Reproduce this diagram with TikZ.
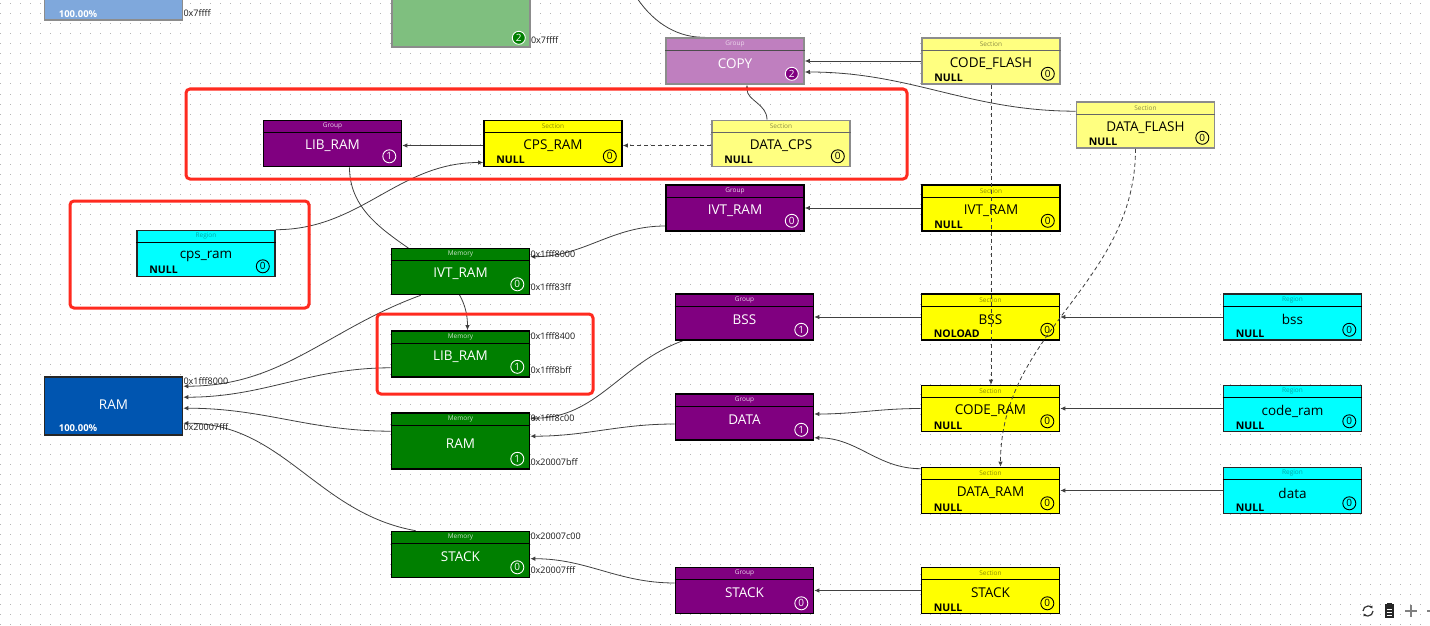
\documentclass[tikz,border=0pt]{standalone}
\usepackage{fontspec}
\setmainfont{Open Sans}
\usetikzlibrary{arrows.meta,backgrounds}

\definecolor{grpcol}{HTML}{800080}
\definecolor{grpfade}{HTML}{BF7FBF}
\definecolor{seccol}{HTML}{FFFF00}
\definecolor{secfade}{HTML}{FFFF80}
\definecolor{regcol}{HTML}{00FFFF}
\definecolor{memcol}{HTML}{007F00}
\definecolor{memfade}{HTML}{7FBF7F}
\definecolor{ramcol}{HTML}{0055B0}
\definecolor{ramfade}{HTML}{7FA8DC}
\definecolor{fadeline}{HTML}{8C8C8C}
\definecolor{edgecol}{HTML}{404040}
\definecolor{hired}{HTML}{FF2A1F}
\definecolor{dotcol}{HTML}{B4B4B4}
\definecolor{addrcol}{HTML}{1A1A1A}

\tikzset{
  blk/.style={rectangle, inner sep=0pt, minimum width=138pt, minimum height=46pt, line width=1.6pt},
  grpbox/.style={blk, fill=grpcol, draw=black},
  grpfbox/.style={blk, fill=grpfade, draw=fadeline},
  secbox/.style={blk, fill=seccol, draw=black},
  secfbox/.style={blk, fill=secfade, draw=fadeline},
  regbox/.style={blk, fill=regcol, draw=black!85},
  membox/.style={blk, fill=memcol, draw=black},
  memfbox/.style={blk, fill=memfade, draw=fadeline},
  rambox/.style={blk, fill=ramcol, draw=black!85},
  ramfbox/.style={blk, fill=ramfade, draw=fadeline},
  hdrline/.style={line width=0.9pt, draw=black},
  grprule/.style={hdrline},
  grpfrule/.style={hdrline, draw=black!70},
  secrule/.style={hdrline},
  secfrule/.style={hdrline, draw=black!60},
  regrule/.style={hdrline},
  memrule/.style={hdrline},
  hdr/.style={font=\fontsize{6.5}{7}\selectfont, inner sep=0pt},
  grphdr/.style={hdr, text=grpcol!15},
  grpfhdr/.style={hdr, text=white!85!grpcol},
  sechdr/.style={hdr, text=black!45!seccol},
  secfhdr/.style={hdr, text=black!45!secfade},
  reghdr/.style={hdr, text=black!35!regcol},
  memhdr/.style={hdr, text=memcol!20},
  lbl/.style={font=\fontsize{13.5}{15}\selectfont, inner sep=0pt},
  grplbl/.style={lbl, text=white},
  grpflbl/.style={lbl, text=white},
  seclbl/.style={lbl, text=black},
  secflbl/.style={lbl, text=black},
  reglbl/.style={lbl, text=black},
  memlbl/.style={lbl, text=white},
  ramlbl/.style={lbl, text=white},
  badge/.style={circle, inner sep=0pt, minimum size=13pt, line width=0.9pt, font=\fontsize{10}{10}\selectfont},
  grpbadge/.style={badge, draw=white, text=white},
  grpfbadge/.style={badge, fill=grpcol, draw=white, text=white},
  secbadge/.style={badge, draw=black, text=black},
  secfbadge/.style={badge, draw=black, text=black},
  regbadge/.style={badge, draw=black, text=black},
  membadge/.style={badge, draw=white, text=white},
  topbadge/.style={badge, fill=memcol, draw=white, text=white},
  nulltxt/.style={font=\bfseries\fontsize{10.5}{11}\selectfont, inner sep=0pt, anchor=west},
  pcttxt/.style={font=\bfseries\fontsize{9.5}{10}\selectfont, inner sep=0pt, anchor=west, text=white},
  addr/.style={font=\fontsize{9}{10}\selectfont, inner sep=0pt, anchor=west, text=addrcol},
  plainwire/.style={draw=edgecol, line width=0.8pt},
  wire/.style={plainwire, -{Latex[length=5pt,width=4.5pt]}},
  copywire/.style={wire, dash pattern=on 4pt off 3pt},
  dotrow/.style={draw=dotcol, line width=1pt, dash pattern=on 1pt off 9pt},
  hilite/.style={draw=hired, line width=3pt, rounded corners=4pt},
}

% #1 kind, #2 name, #3 centre, #4 extra options, #5 header, #6 label, #7 badge, #8 bottom text
\newcommand{\mapblk}[8]{%
  \node[#1box, #4] (#2) at (#3) {};
  \draw[#1rule] ([yshift=-13pt]#2.north west) -- ([yshift=-13pt]#2.north east);
  \node[#1hdr] at ([yshift=-6.5pt]#2.north) {#5};
  \node[#1lbl] at ([yshift=-2.5pt]#2.center) {#6};
  \node[#1badge] at ([xshift=-13pt,yshift=11pt]#2.south east) {#7};
  \if\relax\detokenize{#8}\relax\else
    \node[nulltxt] at ([xshift=13pt,yshift=7pt]#2.south west) {#8};
  \fi
}

\begin{document}
\begin{tikzpicture}[x=1pt,y=-1pt]
\useasboundingbox (0,0) rectangle (1430,626);
\clip (0,0) rectangle (1430,626);

% cut-off blocks at the top
\node[ramfbox, minimum height=58pt] (topram) at (113.5,-9) {};
\node[pcttxt] at ([xshift=15pt,yshift=7pt]topram.south west) {100.00\%};
\node[addr] at ([yshift=8pt]topram.south east) {0x7ffff};
\node[memfbox, minimum height=100pt] (topmem) at (461,-3) {};
\node[topbadge] at ([xshift=-12pt,yshift=10pt]topmem.south east) {2};
\node[addr] at ([yshift=8pt]topmem.south east) {0x7ffff};
\coordinate (topsrc) at (637,-2);

% groups
\mapblk{grpf}{copyg}{735,61}{}{Group}{COPY}{2}{}
\mapblk{grp}{libramg}{332.5,143.5}{}{Group}{LIB\_RAM}{1}{}
\mapblk{grp}{ivtg}{735,208}{}{Group}{IVT\_RAM}{0}{}
\mapblk{grp}{bssg}{744.5,317}{}{Group}{BSS}{1}{}
\mapblk{grp}{datag}{744.5,417}{}{Group}{DATA}{1}{}
\mapblk{grp}{stackg}{744.5,590.5}{}{Group}{STACK}{0}{}

% sections
\mapblk{secf}{codeflash}{991,61}{}{Section}{CODE\_FLASH}{0}{NULL}
\mapblk{secf}{dataflash}{1145.5,125}{}{Section}{DATA\_FLASH}{0}{NULL}
\mapblk{sec}{cpsrams}{553,143.5}{}{Section}{CPS\_RAM}{0}{NULL}
\mapblk{secf}{datacps}{781,143.5}{}{Section}{DATA\_CPS}{0}{NULL}
\mapblk{sec}{ivts}{991,208}{}{Section}{IVT\_RAM}{0}{NULL}
\mapblk{sec}{bsss}{990.5,317}{}{Section}{BSS}{0}{NOLOAD}
\mapblk{sec}{coderams}{990.5,408.5}{}{Section}{CODE\_RAM}{0}{NULL}
\mapblk{sec}{datarams}{990.5,490.5}{}{Section}{DATA\_RAM}{0}{NULL}
\mapblk{sec}{stacks}{990.5,590.5}{}{Section}{STACK}{0}{NULL}

% regions
\mapblk{reg}{cpsramr}{206,253.5}{}{Region}{cps\_ram}{0}{NULL}
\mapblk{reg}{bssr}{1292.5,317}{}{Region}{bss}{0}{NULL}
\mapblk{reg}{coder}{1292.5,408.5}{}{Region}{code\_ram}{0}{NULL}
\mapblk{reg}{datar}{1292.5,490.5}{}{Region}{data}{0}{NULL}

% memories
\mapblk{mem}{ivtm}{460.5,271.5}{}{Memory}{IVT\_RAM}{0}{}
\mapblk{mem}{libm}{460.5,354}{}{Memory}{LIB\_RAM}{1}{}
\mapblk{mem}{ramm}{460.5,441}{minimum height=56pt}{Memory}{RAM}{1}{}
\mapblk{mem}{stackm}{460.5,554.5}{}{Memory}{STACK}{0}{}
\node[addr] at ([yshift=-6pt]ivtm.north east) {0x1fff8000};
\node[addr] at ([yshift=8pt]ivtm.south east) {0x1fff83ff};
\node[addr] at ([yshift=-6pt]libm.north east) {0x1fff8400};
\node[addr] at ([yshift=8pt]libm.south east) {0x1fff8bff};
\node[addr] at ([yshift=-6pt]ramm.north east) {0x1fff8c00};
\node[addr] at ([yshift=8pt]ramm.south east) {0x20007bff};
\node[addr] at ([yshift=-6pt]stackm.north east) {0x20007c00};
\node[addr] at ([yshift=8pt]stackm.south east) {0x20007fff};

\node[rambox, minimum height=58pt] (ramblk) at (113.5,406) {};
\node[ramlbl] at ([yshift=1pt]ramblk.center) {RAM};
\node[pcttxt] at ([xshift=15pt,yshift=8pt]ramblk.south west) {100.00\%};
\node[addr] at ([yshift=-5pt]ramblk.north east) {0x1fff8000};
\node[addr] at ([yshift=9pt]ramblk.south east) {0x20007fff};

% dotted grid and links behind the blocks
\begin{scope}[on background layer]
  \fill[white] (0,0) rectangle (1430,626);
  \foreach \gy in {4,14,...,624}
    \draw[dotrow] (0,\gy) -- (1430,\gy);
  \draw[plainwire] (topsrc) .. controls (655,25) and (680,38) .. ([xshift=-30pt]copyg.north);
  \draw[wire] (codeflash.west) -- (copyg.east);
  \draw[wire] ([yshift=-10pt]dataflash.north west) to[out=180,in=0] ([yshift=-11pt]copyg.east);
  \draw[wire] ([xshift=-14pt]datacps.north) to[out=90,in=-90] ([xshift=12pt]copyg.south);
  \draw[wire] ([yshift=-2pt]cpsrams.west) -- ([yshift=-2pt]libramg.east);
  \draw[wire] (cpsramr.north east) to[out=0,in=180] ([yshift=-19pt]cpsrams.west);
  \draw[wire] ([xshift=17pt]libramg.south) to[out=-90,in=90] ([xshift=7pt]libm.north);
  \draw[wire] (ivts.west) -- (ivtg.east);
  \draw[wire] ([yshift=-18pt]ivtg.west) to[out=180,in=0] ([yshift=-9pt]ivtm.north east);
  \draw[wire] ([xshift=30pt]ivtm.south west) to[out=200,in=0] ([yshift=-10pt]ramblk.north east);
  \draw[wire] ([yshift=10pt]libm.south west) to[out=180,in=0] ([yshift=-21pt]ramblk.north east);
  \draw[wire] ([yshift=-19pt]ramm.north west) to[out=180,in=0] ([yshift=-32pt]ramblk.north east);
  \draw[wire] ([xshift=25pt]stackm.north west) to[out=170,in=0] ([yshift=-47pt]ramblk.north east);
  \draw[wire] (bsss.west) -- (bssg.east);
  \draw[wire] ([xshift=8pt]bssg.south west) to[out=200,in=0] ([yshift=-6pt]ramm.north east);
  \draw[wire] ([yshift=-7pt]datag.west) to[out=180,in=0] ([yshift=-24pt]ramm.north east);
  \draw[wire] (coderams.west) to[out=180,in=0] ([yshift=3pt]datag.east);
  \draw[wire] ([yshift=-2pt]datarams.north west) to[out=180,in=0] ([yshift=3pt]datag.south east);
  \draw[wire] (stacks.west) -- (stackg.east);
  \draw[wire] ([yshift=7.5pt]stackg.west) to[out=180,in=0] ([yshift=-28pt]stackm.north east);
  \draw[wire] (bssr.west) -- (bsss.east);
  \draw[wire] (coder.west) -- (coderams.east);
  \draw[wire] (datar.west) -- (datarams.east);
\end{scope}

% copy links over the blocks
\draw[copywire] ([yshift=-2pt]datacps.west) -- ([yshift=-2pt]cpsrams.east);
\draw[copywire] (codeflash.south) -- (codeflash.south |- coderams.north);
\draw[copywire] ([xshift=-10pt]dataflash.south) to[out=-90,in=90] ([xshift=10pt]datarams.north);

% highlight frames
\draw[hilite] (186,89) rectangle (907,179);
\draw[hilite] (70,201) rectangle (309,308);
\draw[hilite] (377,314) rectangle (593,394);

% toolbar icons
\draw[line width=1.2pt, black!80, -{Triangle[length=2.5pt,width=3pt]}] (1373,611) arc[start angle=0, end angle=150, radius=5];
\draw[line width=1.2pt, black!80, -{Triangle[length=2.5pt,width=3pt]}] (1363,611) arc[start angle=180, end angle=330, radius=5];
\fill[black!85] (1384.5,604) rectangle (1393.5,618);
\fill[black!85] (1386.5,602.5) rectangle (1391.5,605);
\draw[white, line width=0.9pt] (1386.5,609) -- (1391.5,609) (1386.5,612) -- (1391.5,612) (1386.5,615) -- (1391.5,615);
\draw[gray, line width=1.5pt] (1405,611) -- (1417,611) (1411,605) -- (1411,617);
\draw[gray, line width=1.5pt] (1427,611) -- (1430,611);
\end{tikzpicture}
\end{document}
